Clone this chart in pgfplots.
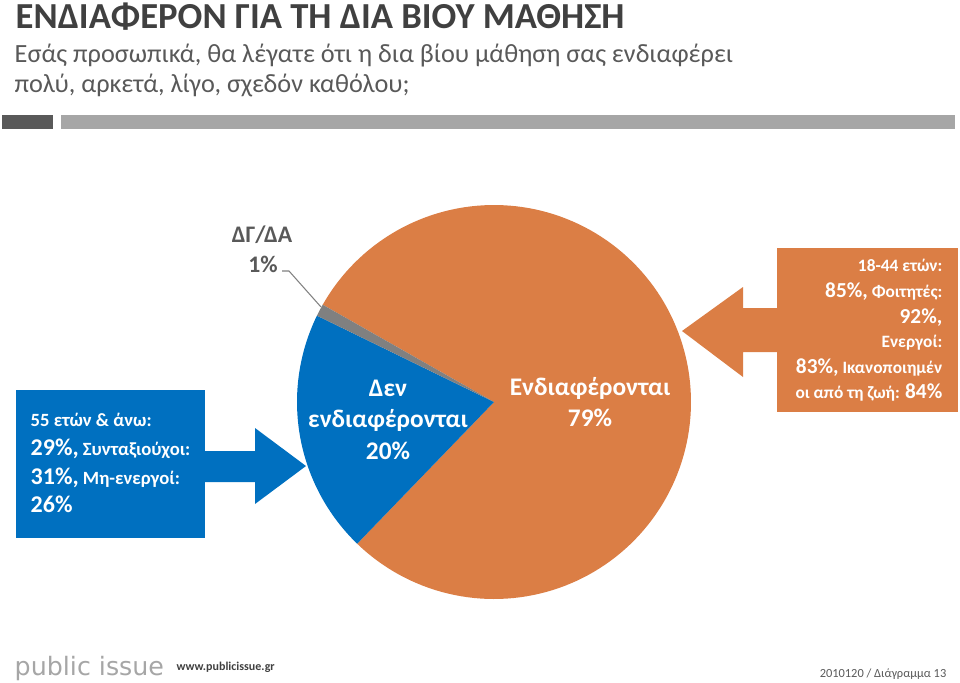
\documentclass[border=0pt]{standalone}
\usepackage{fontspec}
\setmainfont{Carlito}
\newfontfamily\logofont{DejaVu Sans}
\usepackage{pgfplots}
\pgfplotsset{compat=1.18}
\definecolor{ttl}{HTML}{404040}
\definecolor{sub}{HTML}{595959}
\definecolor{orng}{HTML}{DB7E45}
\definecolor{blu}{HTML}{0070C0}
\definecolor{gry}{HTML}{808080}
\definecolor{bardark}{HTML}{595959}
\definecolor{barlight}{HTML}{A6A6A6}
\definecolor{logo}{HTML}{A6A6A6}
% data (percent)
\def\vOr{79}
\def\vBl{20}
\def\vGr{1}
\pgfmathsetmacro\oA{150.4}
\pgfmathsetmacro\oB{\oA-3.6*\vOr}
\pgfmathsetmacro\bB{\oB-3.6*\vBl}
\pgfmathsetmacro\gB{\bB-3.6*\vGr}
\newcommand{\fs}[1]{\fontsize{#1}{#1}\selectfont}
\begin{document}
\begin{tikzpicture}
\begin{axis}[
  scale only axis, width=720pt, height=511.5pt,
  xmin=0, xmax=960, ymin=0, ymax=682, y dir=reverse,
  hide axis, clip=false,
  every node/.style={inner sep=0pt, outer sep=0pt},
]
% pie slices
\addplot[fill=orng, draw=none, domain=\oB:\oA, samples=150] ({494+197*cos(x)},{402-197*sin(x)}) -- (axis cs:494,402) -- cycle;
\addplot[fill=blu, draw=none, domain=\bB:\oB, samples=60] ({494+197*cos(x)},{402-197*sin(x)}) -- (axis cs:494,402) -- cycle;
\addplot[fill=gry, draw=none, domain=\gB:\bB, samples=5] ({494+197*cos(x)},{402-197*sin(x)}) -- (axis cs:494,402) -- cycle;

% title
\node[anchor=base west, text=ttl, font=\bfseries\fs{27.5}] at (axis cs:11,28) {ΕΝΔΙΑΦΕΡΟΝ ΓΙΑ ΤΗ ΔΙΑ ΒΙΟΥ ΜΑΘΗΣΗ};
\node[anchor=base west, text=sub, font=\fs{19.7}] at (axis cs:10,62) {Εσάς προσωπικά, θα λέγατε ότι η δια βίου μάθηση σας ενδιαφέρει};
\node[anchor=base west, text=sub, font=\fs{19.7}] at (axis cs:10,92) {πολύ, αρκετά, λίγο, σχεδόν καθόλου;};
% bars
\fill[bardark] (axis cs:2,115) rectangle (axis cs:53,129);
\fill[barlight] (axis cs:61,115) rectangle (axis cs:955,129);

% left callout
\fill[blu] (axis cs:16,390) rectangle (axis cs:205,538);
\fill[blu] (axis cs:204,451) -- (axis cs:255,451) -- (axis cs:255,428) -- (axis cs:306,466) -- (axis cs:255,504) -- (axis cs:255,482) -- (axis cs:204,482) -- cycle;
\node[anchor=base west, text=white, font=\bfseries\fs{14}] at (axis cs:26,426) {55 ετών \& άνω:};
\node[anchor=base west, text=white, font=\bfseries\fs{14}] at (axis cs:26,455) {{\fs{18}29\%,} Συνταξιούχοι:};
\node[anchor=base west, text=white, font=\bfseries\fs{14}] at (axis cs:26,484) {{\fs{18}31\%,} Μη-ενεργοί:};
\node[anchor=base west, text=white, font=\bfseries\fs{18}] at (axis cs:26,512) {26\%};

% right callout
\fill[orng] (axis cs:777,248) rectangle (axis cs:958,412);
\fill[orng] (axis cs:778,308) -- (axis cs:743,308) -- (axis cs:743,287) -- (axis cs:682,331) -- (axis cs:743,377) -- (axis cs:743,352) -- (axis cs:778,352) -- cycle;
\node[anchor=base east, text=white, font=\bfseries\fs{13}] at (axis cs:947,271) {18-44 ετών:};
\node[anchor=base east, text=white, font=\bfseries\fs{13}] at (axis cs:947,297) {{\fs{16}85\%,} Φοιτητές:};
\node[anchor=base east, text=white, font=\bfseries\fs{16}] at (axis cs:947,323) {92\%,};
\node[anchor=base east, text=white, font=\bfseries\fs{13}] at (axis cs:947,347) {Ενεργοί:};
\node[anchor=base east, text=white, font=\bfseries\fs{13}] at (axis cs:947,373) {{\fs{16}83\%,} Ικανοποιημέν};
\node[anchor=base east, text=white, font=\bfseries\fs{13}] at (axis cs:947,398) {οι από τη ζωή: {\fs{16}84\%}};

% pie labels
\node[anchor=base, text=white, font=\bfseries\fs{19}] at (axis cs:388,396) {Δεν};
\node[anchor=base, text=white, font=\bfseries\fs{19}] at (axis cs:388,427) {ενδιαφέρονται};
\node[anchor=base, text=white, font=\bfseries\fs{19}] at (axis cs:388,459) {20\%};
\node[anchor=base, text=white, font=\bfseries\fs{19}] at (axis cs:590,395) {Ενδιαφέρονται};
\node[anchor=base, text=white, font=\bfseries\fs{19}] at (axis cs:590,426) {79\%};
\node[anchor=base, text=sub, font=\bfseries\fs{17.8}] at (axis cs:262,242) {ΔΓ/ΔΑ};
\node[anchor=base, text=sub, font=\bfseries\fs{17.8}] at (axis cs:263,272) {1\%};
\draw[gry, line width=0.8pt] (axis cs:282,271) -- (axis cs:289,271) -- (axis cs:321,307);

% footer
\node[anchor=base west, text=logo, font=\logofont\fs{19}] at (axis cs:10,675) {public issue};
\node[anchor=base west, text=ttl, font=\bfseries\fs{9}] at (axis cs:172,670) {www.publicissue.gr};
\node[anchor=base east, text=sub, font=\fs{9.3}] at (axis cs:951,677) {2010120 / Διάγραμμα 13};
\end{axis}
\pgfresetboundingbox
\path[use as bounding box] (current axis.south west) rectangle (current axis.north east);
\end{tikzpicture}
\end{document}
